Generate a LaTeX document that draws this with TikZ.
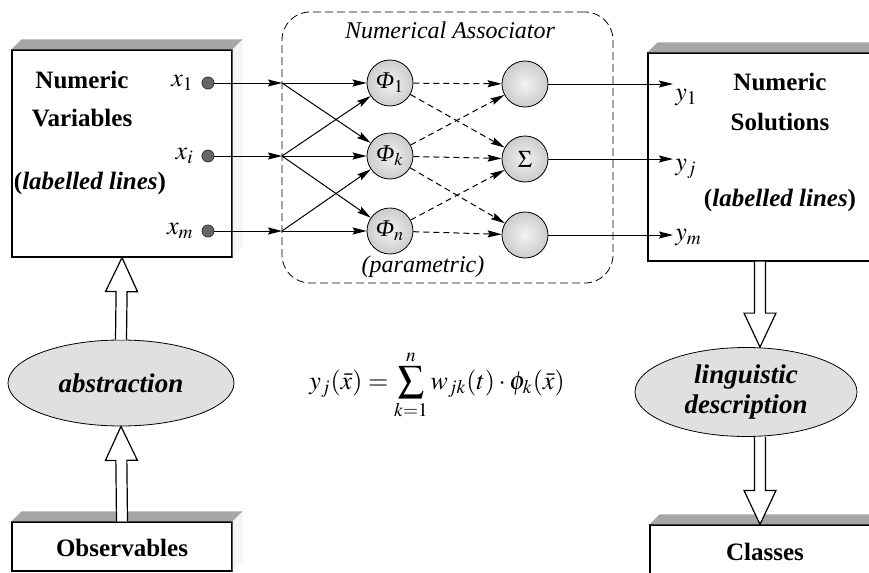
\documentclass[tikz,border=0pt]{standalone}
\usepackage{mathptmx}
\usepackage{fontspec}
\setmainfont{Liberation Serif}
\usetikzlibrary{arrows.meta, shapes.geometric, calc}

\begin{document}
\begin{tikzpicture}[x=0.5pt, y=-0.5pt,
    panel/.style={draw, fill=white, inner sep=0pt, line width=0.6pt},
    topband/.style={fill=black!35},
    sideband/.style={fill=black!4},
    lbl/.style={font=\fontsize{12.5}{15}\selectfont\bfseries, align=center},
    neuron/.style={circle, draw, inner color=black!5, outer color=black!20, minimum size=23pt,
                   inner sep=0pt, font=\fontsize{12}{14}\selectfont},
    port/.style={circle, fill=black!60, draw=black!80, minimum size=6pt, inner sep=0pt},
    oval/.style={ellipse, draw, fill=black!12, inner sep=0pt, align=center,
                 font=\fontsize{13.5}{15}\selectfont\bfseries\itshape},
    idx/.style={font=\fontsize{13}{15}\selectfont, inner sep=1pt},
    note/.style={font=\fontsize{12}{14}\selectfont\itshape},
    arr/.style={-{Stealth[length=7pt, width=3.5pt, inset=1pt]}, line width=0.5pt},
    darr/.style={arr, dash pattern=on 3pt off 2pt},
    hollow/.style={draw, fill=white, line width=0.6pt, line join=miter}]
  \useasboundingbox (0,0) rectangle (869,573);
  % the four boxes, with their shaded tops
  \node[panel, minimum width=110pt, minimum height=103.5pt] (vars) at (122,153.5) {};
  \node[panel, minimum width=112pt, minimum height=104pt] (sols) at (760,157) {};
  \node[panel, minimum width=110pt, minimum height=24.5pt] (obs) at (122,546.5) {};
  \node[panel, minimum width=110pt, minimum height=30pt] (cls) at (760,555) {};
  \foreach \b in {vars, sols, obs, cls} {
    \fill[topband] (\b.north west) -- ++(10,-10) -- ([shift={(10,-10)}]\b.north east)
      -- (\b.north east) -- cycle;
    \fill[sideband] (\b.north east) -- ++(10,-10) -- ([shift={(10,-10)}]\b.south east)
      -- (\b.south east) -- cycle;
  }
  \node[lbl] (vt1) at (82,80) {Numeric};
  \node[lbl] (vt2) at (82,118) {Variables};
  \node[lbl] (vt3) at (90,183) {(\textit{labelled lines})};
  \node[lbl] (st1) at (780,82) {Numeric};
  \node[lbl] (st2) at (780,122) {Solutions};
  \node[lbl] (st3) at (780,200) {(\textit{labelled lines})};
  \node[lbl] (ot) at (122,548) {Observables};
  \node[lbl] (ct) at (765,552) {Classes};
  % the associator
  \node[draw, dash pattern=on 4pt off 2pt, rounded corners=14pt,
        minimum width=165.5pt, minimum height=135.5pt] (assoc) at (447.5,147.5) {};
  \node[note] (title) at (450,30) {Numerical Associator};
  \node[note] (param) at (423,267) {(parametric)};
  \node[neuron] (p1) at (390,83) {{\itshape Φ}$_1$};
  \node[neuron] (pk) at (390,156) {{\itshape Φ}$_k$};
  \node[neuron] (pn) at (390,231) {{\itshape Φ}$_n$};
  \node[neuron] (o1) at (525,84) {};
  \node[neuron] (sig) at (525,159) {$\Sigma$};
  \node[neuron] (o3) at (525,235) {};
  % inputs
  \foreach \i/\y/\l in {1/83/1, 2/156/i, 3/231/m} {
    \node[port] (x\i) at (208,\y) {};
    \node[idx, anchor=east] (xl\i) at (196,\y) {$x_{\l}$};
    \coordinate (j\i) at (282,\y);
    \draw[arr] (x\i) -- (j\i);
  }
  \foreach \a/\b in {j1/p1, j1/pk, j2/p1, j2/pk, j2/pn, j3/pk, j3/pn}
    \draw[arr] (\a) -- (\b);
  \foreach \a/\b in {p1/o1, p1/sig, pk/o1, pk/sig, pk/o3, pn/sig, pn/o3}
    \draw[darr] (\a) -- (\b);
  % outputs
  \foreach \o/\y/\l/\ly in {o1/84/1/98, sig/159/j/169, o3/235/m/238} {
    \coordinate (e\o) at (673,\y);
    \draw[arr] (\o) -- (e\o);
    \node[idx, anchor=west] (yl\o) at (673,\ly) {$y_{\l}$};
  }
  % the formula
  \node[font=\fontsize{13}{15}\selectfont] (eq) at (437,385)
    {$\displaystyle y_j(\bar{x}) = \sum_{k=1}^{n} w_{jk}(t)\cdot\phi_k(\bar{x})$};
  % abstraction and description
  \node[oval, minimum width=113pt, minimum height=43pt] (abs) at (121,383) {abstraction};
  \node[oval, minimum width=111pt, minimum height=44.5pt] (ling) at (746,392)
    {linguistic\\description};
  \coordinate (lt) at (sols.south |- ling.north);
  \coordinate (lb) at (sols.south |- ling.south);
  \foreach \s/\t in {abs.north/vars.south, obs.north/abs.south, sols.south/lt, lb/cls.north} {
    \coordinate (hb) at ($(\t)!17pt!(\s)$);
    \draw[hollow] ($(\s)!2.75pt!90:(\t)$) -- ($(hb)!2.75pt!-90:(\s)$) -- ($(hb)!8pt!-90:(\s)$)
      -- (\t) -- ($(hb)!8pt!90:(\s)$) -- ($(hb)!2.75pt!90:(\s)$) -- ($(\s)!2.75pt!-90:(\t)$);
  }
\end{tikzpicture}
\end{document}
